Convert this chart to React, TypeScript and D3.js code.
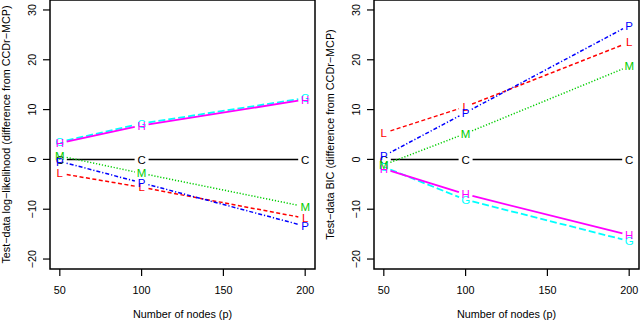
import * as d3 from "d3";

// node counts on the x axis
const nodes = [50, 100, 200];
const xTicks = [50, 100, 150, 200];
const yTicks = [-20, -10, 0, 10, 20, 30];

// test-data log-likelihood, difference from CCDr-MCP
const llC = [0, 0, 0];
const llG = [3.5, 7.2, 12.3];
const llH = [3.3, 6.8, 12.0];
const llL = [-2.8, -5.6, -11.8];
const llM = [0.7, -2.8, -9.5];
const llP = [-0.4, -4.7, -13.4];

// test-data BIC, difference from CCDr-MCP
const bicC = [0, 0, 0];
const bicG = [-1.5, -8.1, -16.4];
const bicH = [-1.9, -7.0, -15.2];
const bicL = [5.3, 10.6, 23.5];
const bicM = [-1.1, 5.2, 18.7];
const bicP = [0.7, 9.4, 26.9];

type Series = { key: string; values: number[]; color: string; dash: string; width: number };

const style: Record<string, { color: string; dash: string; width: number }> = {
  C: { color: "#000000", dash: "none", width: 1.5 },
  G: { color: "#00FFFF", dash: "7,3", width: 1.8 },
  H: { color: "#FF00FF", dash: "none", width: 1.8 },
  L: { color: "#FF0000", dash: "4,2.5", width: 1.5 },
  M: { color: "#00CD00", dash: "1.2,1.8", width: 1.5 },
  P: { color: "#0000FF", dash: "1.2,2,4,2", width: 1.5 },
};

const mk = (vals: Record<string, number[]>): Series[] =>
  Object.keys(vals).map((k) => ({ key: k, values: vals[k], ...style[k] }));

const llSeries = mk({ C: llC, G: llG, H: llH, L: llL, M: llM, P: llP });
const bicSeries = mk({ C: bicC, G: bicG, H: bicH, L: bicL, M: bicM, P: bicP });

const font = "'Liberation Sans', Arial, Helvetica, sans-serif";

function Panel({ left, title, series }: { left: number; title: string; series: Series[] }) {
  const top = 0;
  const bottom = 269;
  const right = left + 265;
  // R style: axis ranges padded by 4%
  const x = d3.scaleLinear().domain([44, 206]).range([left, right]);
  const y = d3.scaleLinear().domain([-22, 32]).range([bottom, top]);
  const gap = 7;

  return (
    <g fontFamily={font}>
      {series.map((s) => {
        const pts = s.values.map((v, i) => [x(nodes[i]), y(v)]);
        const segs = [];
        for (let i = 0; i < pts.length - 1; i++) {
          const [x1, y1] = pts[i];
          const [x2, y2] = pts[i + 1];
          const len = Math.hypot(x2 - x1, y2 - y1);
          const ux = (x2 - x1) / len;
          const uy = (y2 - y1) / len;
          segs.push(
            <line
              key={i}
              x1={x1 + ux * gap}
              y1={y1 + uy * gap}
              x2={x2 - ux * gap}
              y2={y2 - uy * gap}
              stroke={s.color}
              strokeWidth={s.width}
              strokeDasharray={s.dash}
            />
          );
        }
        return (
          <g key={s.key}>
            {segs}
            {pts.map(([px, py], i) => (
              <text
                key={i}
                x={px}
                y={py}
                dy="0.36em"
                textAnchor="middle"
                fontSize={11.5}
                fill={s.color}
              >
                {s.key}
              </text>
            ))}
          </g>
        );
      })}
      <rect x={left} y={top} width={right - left} height={bottom - top} fill="none" stroke="#000" strokeWidth={1.5} />
      {xTicks.map((t) => (
        <g key={t}>
          <line x1={x(t)} x2={x(t)} y1={bottom} y2={bottom + 7} stroke="#000" strokeWidth={1.2} />
          <text x={x(t)} y={bottom + 25} textAnchor="middle" fontSize={10.8}>
            {t}
          </text>
        </g>
      ))}
      {yTicks.map((t) => (
        <g key={t}>
          <line x1={left - 7} x2={left} y1={y(t)} y2={y(t)} stroke="#000" strokeWidth={1.2} />
          <text
            transform={`translate(${left - 18},${y(t)}) rotate(-90)`}
            textAnchor="middle"
            dy="0.36em"
            fontSize={10.8}
          >
            {t < 0 ? "\u2212" + Math.abs(t) : t}
          </text>
        </g>
      ))}
      <text x={(left + right) / 2} y={318} textAnchor="middle" fontSize={10.8}>
        Number of nodes (p)
      </text>
      <text
        transform={`translate(${left - 44},${(top + bottom) / 2}) rotate(-90)`}
        textAnchor="middle"
        dy="0.36em"
        fontSize={10.8}
      >
        {title}
      </text>
    </g>
  );
}

export default function App() {
  return (
    <svg width={640} height={322} style={{ position: "absolute", left: 0, top: 0, background: "#fff" }}>
      <Panel left={50} title={"Test\u2212data log\u2212likelihood (difference from CCDr\u2212MCP)"} series={llSeries} />
      <Panel left={374} title={"Test\u2212data BIC (difference from CCDr\u2212MCP)"} series={bicSeries} />
    </svg>
  );
}
